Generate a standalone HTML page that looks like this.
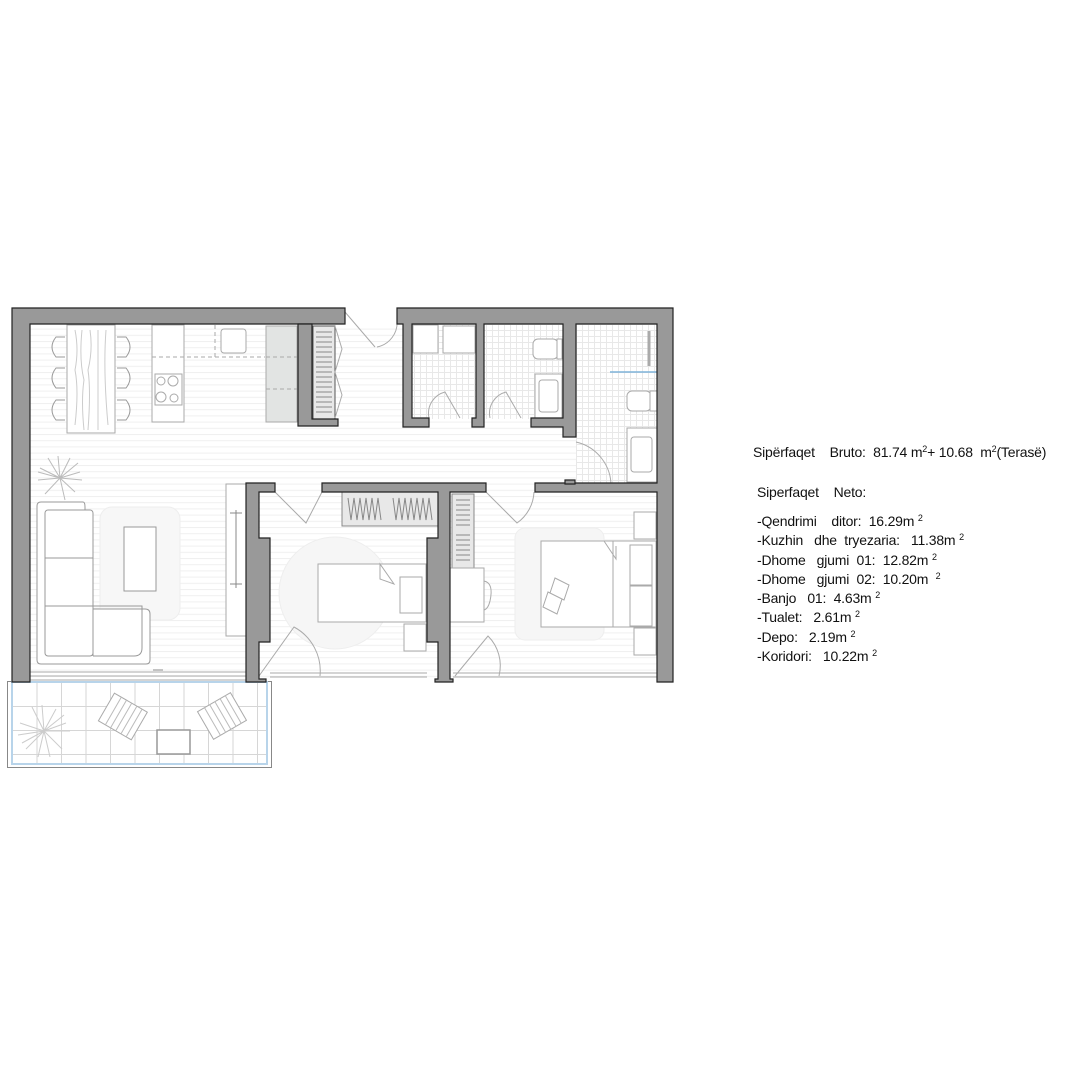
<!DOCTYPE html>
<html><head><meta charset="utf-8"><style>
html,body{margin:0;padding:0;background:#fff;width:1080px;height:1080px;overflow:hidden}
svg{position:absolute;left:0;top:0}
.t{position:absolute;font-family:"Liberation Sans",sans-serif;font-size:14px;color:#111;white-space:pre;line-height:1;letter-spacing:-0.2px}
sup{font-size:9px;vertical-align:5px}
</style></head><body>
<svg width="1080" height="1080" viewBox="0 0 1080 1080">
<defs>
<pattern id="st" width="6" height="6.2" patternUnits="userSpaceOnUse"><rect width="6" height="6.2" fill="#fff"/><line x1="0" y1="0.5" x2="6" y2="0.5" stroke="#f0f0f0" stroke-width="1"/></pattern>
<pattern id="tile" width="6" height="6" patternUnits="userSpaceOnUse"><rect width="6" height="6" fill="#fff"/><path d="M0 .5H6M.5 0V6" stroke="#e8e8e8" stroke-width="1"/></pattern>
<pattern id="tg" width="24.5" height="24" patternUnits="userSpaceOnUse" x="12" y="682"><path d="M0 0.5H25M0.5 0V24" stroke="#d6d6d6" stroke-width="1" fill="none"/></pattern>
</defs>
<rect x="30" y="324" width="628" height="356" fill="url(#st)"/>
<rect x="412" y="324" width="64" height="95" fill="url(#tile)"/>
<rect x="484" y="324" width="79" height="95" fill="url(#tile)"/>
<rect x="576" y="324" width="82" height="160" fill="url(#tile)"/>
<rect x="450" y="492" width="208" height="188" fill="url(#st)"/>
<rect x="7.5" y="681.5" width="264" height="86" fill="#fff" stroke="#888" stroke-width="1"/>
<rect x="12" y="682" width="255" height="82" fill="url(#tg)" stroke="#b8d4ea" stroke-width="2"/>
<g fill="#fff" stroke="#aaa" stroke-width="1">
<rect x="67" y="325" width="48" height="108"/>
<path d="M75 330 q4 20 0 40 q4 20 0 55 M82 330 q-3 30 2 50 q-3 20 0 50 M90 330 q3 20 -2 40 q3 20 0 60 M98 330 v100 M106 330 q-3 40 2 95" fill="none" stroke="#ccc"/>
<g fill="none" stroke="#999"><path d="M65 337h-9q-8 10 0 20h9M65 368h-9q-8 10 0 20h9M65 400h-9q-8 10 0 20h9M117 337h9q8 10 0 20h-9M117 368h9q8 10 0 20h-9M117 400h9q8 10 0 20h-9"/></g>
<rect x="152" y="325" width="32" height="97"/>
<rect x="155" y="374" width="27" height="31"/>
<circle cx="161" cy="381" r="4"/><circle cx="173" cy="381" r="5"/><circle cx="161" cy="397" r="5"/><circle cx="174" cy="398" r="4"/>
<path d="M152 357h113M184 325v32M215 325v32" stroke-dasharray="4 3" fill="none"/>
<rect x="221" y="329" width="25" height="24" rx="3"/>
<rect x="266" y="326" width="31" height="96" fill="#e2e4e3"/>
<path d="M266 357h31M266 389h31" stroke-dasharray="4 3" fill="none"/>
<rect x="313" y="326" width="22" height="93" fill="#e8e8e8" stroke="#555"/>
<path d="M316 332h16M316 337h16M316 342h16M316 347h16M316 352h16M316 357h16M316 362h16M316 367h16M316 372h16M316 377h16M316 382h16M316 387h16M316 392h16M316 397h16M316 402h16M316 407h16M316 412h16" stroke="#888" fill="none"/>
<path d="M335 326l7 23-7 23l7 23-7 23" fill="none" stroke="#aaa"/>
<rect x="100" y="507" width="80" height="113" rx="12" fill="#f7f7f7" stroke="#eee"/>
<path d="M41 502h42q2 0 2 5v0h0V609h60q5 0 5 5v46q0 4-4 4H41q-4 0-4-4V506q0-4 4-4z" fill="#fff" stroke="#999"/>
<rect x="45" y="510" width="48" height="146" rx="3" fill="#fff" stroke="#999"/>
<path d="M45 558h48M45 606h97v42q0 8-8 8H93M93 606v50" fill="none" stroke="#999"/>
<rect x="124" y="527" width="32" height="64" stroke="#999"/>
<rect x="226" y="484" width="20" height="152"/>
<path d="M236 510v78M230 513h12M230 584h12" stroke="#888"/>
<g stroke="#bbb" fill="none"><path d="M60 478l-20-10M60 478l18-15M60 478l-2-22M60 478l22 2M60 478l-15 16M60 478l5 22M60 478l-22 2M60 478l15 14M60 478l-12-20M60 478l20-6M60 478l10-20M60 478l-22-6"/></g>
<path d="M163 670h-10" stroke="#888"/>
<circle cx="335" cy="593" r="56" fill="#f6f6f6" stroke="#eee"/>
<rect x="342" y="492" width="97" height="34" fill="#e8e8e8" stroke="#888"/>
<path d="M348 498l3 22 3-22 3 22 3-22 3 22 3-22 3 22 3-22 3 22 3-22 3 22M393 498l3 22 3-22 3 22 3-22 3 22 3-22 3 22 3-22 3 22 3-22 3 22 3-22 3 22" fill="none" stroke="#888"/>
<rect x="318" y="564" width="108" height="58"/>
<rect x="400" y="577" width="22" height="36"/>
<path d="M380 564v15l14 5z" fill="#fff"/>
<rect x="404" y="624" width="22" height="27"/>
<rect x="515" y="528" width="89" height="112" rx="10" fill="#f6f6f6" stroke="#eee"/>
<rect x="452" y="494" width="22" height="74" fill="#e8e8e8" stroke="#888"/>
<path d="M456 500h14M456 505h14M456 510h14M456 515h14M456 520h14M456 525h14M456 535h14M456 540h14M456 545h14M456 550h14M456 555h14M456 560h14" stroke="#888"/>
<rect x="450" y="568" width="34" height="54"/>
<path d="M484 581q10 2 6 20 q-2 8-6 9" fill="none"/>
<rect x="541" y="541" width="115" height="86"/>
<path d="M613 541v86M604 541l12 18v-13"/>
<rect x="630" y="545" width="22" height="40"/><rect x="630" y="586" width="22" height="40"/>
<rect x="634" y="512" width="22" height="27"/><rect x="634" y="628" width="22" height="27"/>
<path d="M555 578l14 7-5 15-14-7z M548 592l14 7-5 15-14-7z" fill="#fff"/>
<rect x="413" y="325" width="25" height="28"/>
<rect x="443" y="326" width="32" height="27"/>
<rect x="533" y="339" width="25" height="20" rx="5"/><rect x="557" y="339" width="5" height="20"/>
<rect x="535" y="374" width="27" height="44"/><rect x="539" y="380" width="19" height="32" rx="3"/>
<path d="M649 331v35" stroke="#aaa" stroke-width="3"/>
<path d="M610 372h48" stroke="#7fb3d9" stroke-width="1.5"/>
<rect x="627" y="391" width="24" height="20" rx="5"/><rect x="650" y="391" width="7" height="20"/>
<rect x="627" y="428" width="30" height="54"/><rect x="631" y="437" width="21" height="35" rx="3"/>
<g fill="none" stroke="#aaa">
<path d="M375 347l-30-35M397 310v10a25 25 0 0 1-20 27"/>
<path d="M429 418a22 22 0 0 1 16-26l15 26M490 418a22 22 0 0 1 16-26l15 26"/>
<path d="M576 442a45 45 0 0 1 35 45H576"/>
<path d="M275 492l31 31 16-31"/>
<path d="M486 492l31 31a40 40 0 0 0 17-31"/>
<path d="M259 676l35-49a50 50 0 0 1 26 49"/>
<path d="M455 676l33-40a42 42 0 0 1 11 40"/>
</g>
<g transform="rotate(30 122 716)"><rect x="104" y="700" width="38" height="32"/><path d="M112 700v32M118 700v32M124 700v32M130 700v32M136 700v32" stroke="#bbb"/></g>
<g transform="rotate(-30 222 716)"><rect x="203" y="700" width="38" height="32"/><path d="M211 700v32M217 700v32M223 700v32M229 700v32M235 700v32" stroke="#bbb"/></g>
<rect x="157" y="730" width="33" height="24" stroke="#999" stroke-width="1.5"/>
<g stroke="#ccc" fill="none"><path d="M44 731l-24-8M44 731l20-16M44 731l-2-26M44 731l26 0M44 731l-18 18M44 731l6 26M44 731l-26 4M44 731l18 18M44 731l-12-24M44 731l22-8M44 731l12-22M44 731l-22 12M44 731l-6 26"/></g>
</g>
<g stroke="#aaa" fill="none"><path d="M30 672h216M30 676h216M30 680h216M270 673h157M270 677h157M453 673h204M453 677h204"/></g>
<g fill="#999" stroke="#222" stroke-width="1.2">
<path d="M12 308H345V324H30V682H12Z"/>
<path d="M397 308H673V682H657V492H535V483H657V324H576V437H563V427H531V418H563V324H484V427H472V418H476V324H412V418H429V427H403V324H397Z"/>
<path d="M298 324H312V419H338V426H298Z"/>
<path d="M246 483H275V492H259V538H270V642H259V679H266V682H246Z"/>
<path d="M322 483H486V492H450V679H453V682H435V679H438V642H427V538H438V492H322Z"/>
<path d="M565 480h10v4h-10z"/>
</g>
</svg>
<div class="t" style="left:753px;top:445px">Sipërfaqet    Bruto:  81.74 m<sup>2</sup>+ 10.68  m<sup>2</sup>(Terasë)</div>
<div class="t" style="left:757px;top:485px">Siperfaqet    Neto:</div>
<div class="t" style="left:757px;top:514px">-Qendrimi    ditor:  16.29m <sup>2</sup></div>
<div class="t" style="left:757px;top:533px">-Kuzhin   dhe  tryezaria:   11.38m <sup>2</sup></div>
<div class="t" style="left:757px;top:553px">-Dhome   gjumi  01:  12.82m <sup>2</sup></div>
<div class="t" style="left:757px;top:572px">-Dhome   gjumi  02:  10.20m  <sup>2</sup></div>
<div class="t" style="left:757px;top:591px">-Banjo   01:  4.63m <sup>2</sup></div>
<div class="t" style="left:757px;top:610px">-Tualet:   2.61m <sup>2</sup></div>
<div class="t" style="left:757px;top:630px">-Depo:   2.19m <sup>2</sup></div>
<div class="t" style="left:757px;top:649px">-Koridori:   10.22m <sup>2</sup></div>
</body></html>
